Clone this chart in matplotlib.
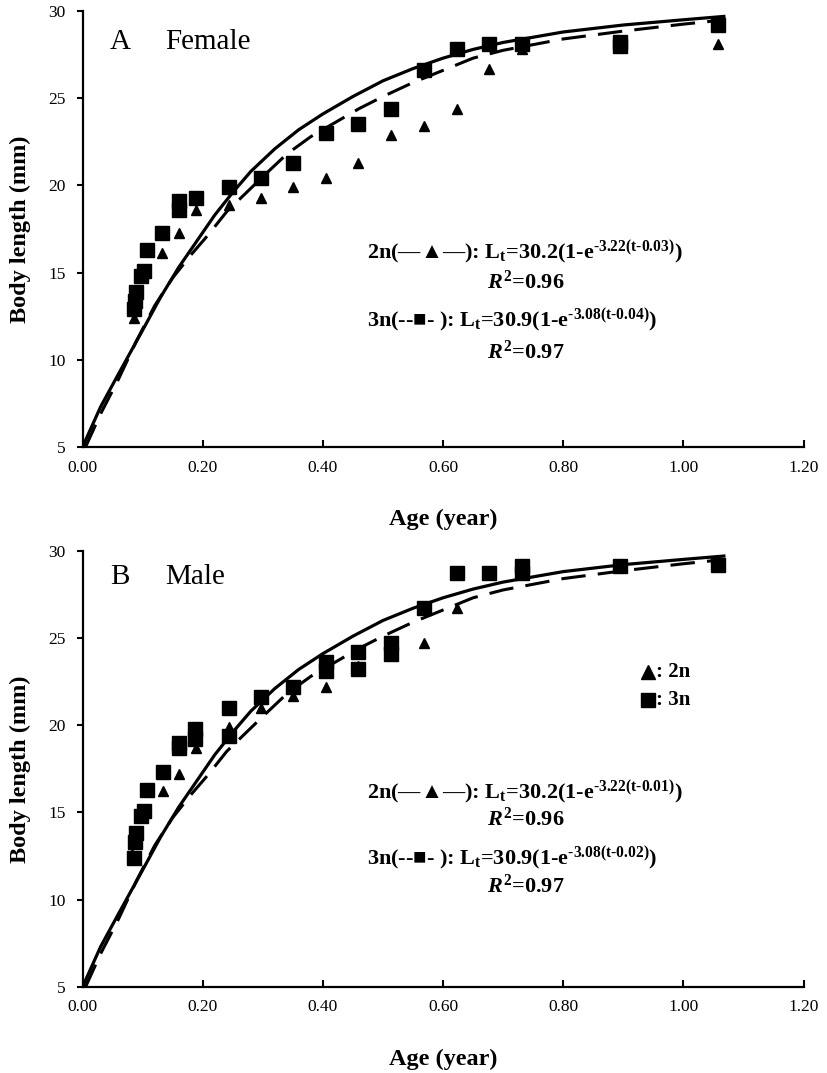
import matplotlib
matplotlib.use("Agg")
import matplotlib.pyplot as plt

plt.rcParams["font.family"] = ["Liberation Serif", "DejaVu Serif"]
plt.rcParams["mathtext.fontset"] = "custom"
plt.rcParams["mathtext.rm"] = "Liberation Serif:bold"
plt.rcParams["mathtext.it"] = "Liberation Serif:italic:bold"
plt.rcParams["mathtext.bf"] = "Liberation Serif:bold"

# fitted growth curves as drawn
FIT_2N_T = [0.00, 0.03, 0.06, 0.10, 0.13, 0.16, 0.19, 0.22, 0.25, 0.28, 0.32, 0.36,
            0.40, 0.45, 0.50, 0.55, 0.60, 0.65, 0.70, 0.80, 0.90, 1.00, 1.07]
FIT_2N_L = [5.0, 7.3, 9.2, 11.7, 13.6, 15.3, 16.8, 18.3, 19.6, 20.8, 22.1, 23.2,
            24.1, 25.1, 26.0, 26.7, 27.3, 27.8, 28.2, 28.8, 29.2, 29.5, 29.7]
FIT_3N_T = [0.005, 0.03, 0.06, 0.09, 0.12, 0.15, 0.18, 0.21, 0.24, 0.27, 0.30, 0.34,
            0.38, 0.42, 0.46, 0.50, 0.55, 0.60, 0.65, 0.70, 0.80, 0.90, 1.00, 1.07]
FIT_3N_L = [5.0, 6.9, 8.9, 11.1, 13.1, 14.7, 16.0, 17.2, 18.5, 19.5, 20.5, 21.8,
            22.8, 23.6, 24.4, 25.1, 25.9, 26.6, 27.3, 27.75, 28.4, 28.85, 29.25, 29.5]

# panel A: female
A_2N_AGE = [0.085, 0.133, 0.161, 0.189, 0.243, 0.297, 0.351, 0.405, 0.459, 0.514,
            0.569, 0.623, 0.677, 0.731, 1.058]
A_2N_LEN = [12.4, 16.1, 17.3, 18.6, 18.9, 19.3, 19.9, 20.4, 21.3, 22.9,
            23.4, 24.4, 26.7, 27.8, 28.1]
A_3N_AGE = [0.085, 0.087, 0.089, 0.098, 0.102, 0.107, 0.133, 0.161, 0.161, 0.189,
            0.243, 0.297, 0.351, 0.405, 0.459, 0.514, 0.569, 0.623, 0.677, 0.731,
            0.894, 0.894, 1.058]
A_3N_LEN = [12.9, 13.4, 13.9, 14.8, 15.1, 16.3, 17.3, 18.6, 19.1, 19.3,
            19.9, 20.4, 21.3, 23.0, 23.5, 24.4, 26.6, 27.8, 28.1, 28.1,
            28.0, 28.2, 29.2]

# panel B: male
B_2N_AGE = [0.082, 0.134, 0.161, 0.189, 0.243, 0.297, 0.351, 0.405, 0.459, 0.514,
            0.569, 0.623]
B_2N_LEN = [12.6, 16.2, 17.2, 18.7, 19.9, 21.0, 21.7, 22.2, 23.4, 24.2,
            24.7, 26.7]
B_3N_AGE = [0.085, 0.087, 0.089, 0.098, 0.102, 0.107, 0.134, 0.161, 0.161, 0.187,
            0.187, 0.243, 0.243, 0.297, 0.351, 0.405, 0.405, 0.459, 0.459, 0.514,
            0.514, 0.569, 0.623, 0.677, 0.731, 0.731, 0.894, 1.058]
B_3N_LEN = [12.4, 13.3, 13.8, 14.8, 15.1, 16.3, 17.3, 18.7, 19.0, 19.2,
            19.8, 19.4, 21.0, 21.6, 22.2, 23.1, 23.6, 23.2, 24.2, 24.1,
            24.7, 26.7, 28.7, 28.7, 28.7, 29.1, 29.1, 29.2]

X_TICKS = [0.0, 0.2, 0.4, 0.6, 0.8, 1.0, 1.2]
Y_TICKS = [5, 10, 15, 20, 25, 30]

# letter, sex, data, t0 for 2n / 3n, title y, text rows y, show legend
PANELS = [
    ("A", "Female", A_2N_AGE, A_2N_LEN, A_3N_AGE, A_3N_LEN,
     "0.03", "0.04", 0.930, (0.445, 0.378, 0.289, 0.218), False),
    ("B", "Male", B_2N_AGE, B_2N_LEN, B_3N_AGE, B_3N_LEN,
     "0.01", "0.02", 0.940, (0.445, 0.385, 0.294, 0.232), True),
]

fig = plt.figure(figsize=(8.27, 10.73), dpi=100)
boxes = [[0.0998, 0.5834, 0.8719, 0.4063], [0.0998, 0.0802, 0.8719, 0.4066]]

for box, (letter, sex, a2, l2, a3, l3, t02, t03, ty, rows, legend) in zip(boxes, PANELS):
    ax = fig.add_axes(box)
    ax.plot(FIT_2N_T, FIT_2N_L, color="black", lw=2.3, solid_capstyle="butt")
    ax.plot(FIT_3N_T, FIT_3N_L, color="black", lw=2.2, dashes=(8, 4))
    ax.plot(a3, l3, ls="none", marker="s", ms=9.5, color="black")
    ax.plot(a2, l2, ls="none", marker="^", ms=7.5, color="black")

    ax.set_xlim(0, 1.2); ax.set_ylim(5, 30)
    ax.set_xticks(X_TICKS); ax.set_yticks(Y_TICKS)
    ax.set_xticklabels([f"{v:.2f}" for v in X_TICKS])
    for s in ("top", "right"):
        ax.spines[s].set_visible(False)
    for s in ("left", "bottom"):
        ax.spines[s].set_linewidth(1.6)
    ax.tick_params(axis="x", direction="in", length=5, width=1.5, pad=9, labelsize=12.5)
    ax.tick_params(axis="y", direction="out", length=4, width=1.5, pad=8, labelsize=12.5)

    ax.text(0.5, -0.165, "Age (year)", transform=ax.transAxes, ha="center", va="center",
            fontsize=17.5, fontweight="bold")
    ax.text(-0.086, 0.5, "Body length (mm)", transform=ax.transAxes, ha="center",
            va="center", rotation=90, fontsize=17.5, fontweight="bold")

    ax.text(0.038, ty, letter, transform=ax.transAxes, ha="left", va="center", fontsize=21)
    ax.text(0.114, ty, sex, transform=ax.transAxes, ha="left", va="center", fontsize=21)

    f2 = ("2n(—▲—): L$_\\mathrm{t}$=30.2(1-e$^{\\text{-3.22(t-" + t02 + ")}}$)")
    f3 = ("3n(--■- ): L$_\\mathrm{t}$=30.9(1-e$^{\\text{-3.08(t-" + t03 + ")}}$)")
    kw = dict(transform=ax.transAxes, ha="left", va="center", fontsize=16,
              fontweight="bold")
    ax.text(0.394, rows[0], f2, **kw)
    ax.text(0.561, rows[1], "$\\mathit{R}^{\\mathrm{2}}$=0.96", **kw)
    ax.text(0.394, rows[2], f3, **kw)
    ax.text(0.561, rows[3], "$\\mathit{R}^{\\mathrm{2}}$=0.97", **kw)

    if legend:
        ax.plot([0.784], [0.723], marker="^", ms=10, color="black", ls="none",
                transform=ax.transAxes)
        ax.plot([0.784], [0.658], marker="s", ms=9.5, color="black", ls="none",
                transform=ax.transAxes)
        lk = dict(transform=ax.transAxes, ha="left", va="center", fontsize=15,
                  fontweight="bold")
        ax.text(0.796, 0.723, ": 2n", **lk)
        ax.text(0.796, 0.658, ": 3n", **lk)

fig.savefig("out.png", dpi=100)
